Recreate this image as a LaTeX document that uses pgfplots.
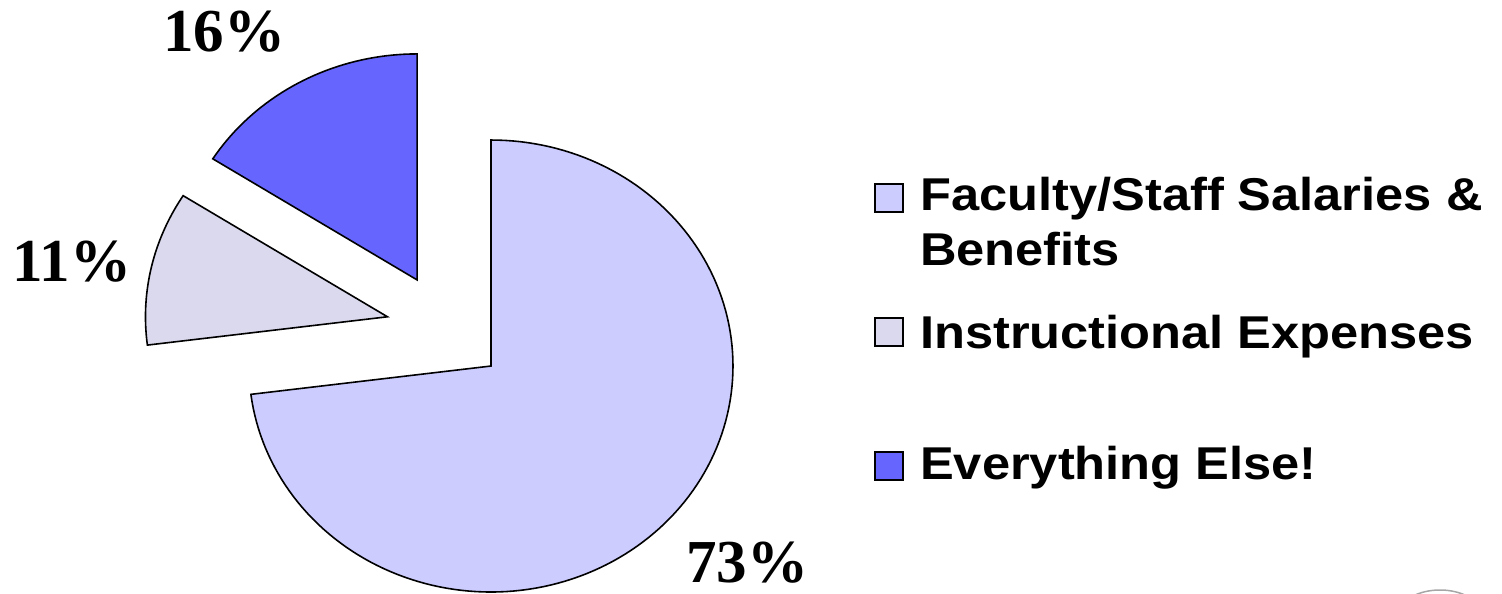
\documentclass[border=0pt]{standalone}
\usepackage{pgfplots}
\pgfplotsset{compat=1.18}
\usepackage{fontspec}
\setmainfont{Liberation Serif}
\newfontfamily\lsans{Liberation Sans}[FakeStretch=1.1]
\definecolor{cMain}{RGB}{204,204,255}
\definecolor{cInstr}{RGB}{218,217,237}
\definecolor{cElse}{RGB}{102,102,255}
% shares (percent)
\def\pA{73}% Faculty/Staff Salaries & Benefits
\def\pB{11}% Instructional Expenses
\def\pC{16}% Everything Else!
% geometry (pixel units)
\def\cx{446}\def\cy{265}\def\rx{242}\def\ry{226}\def\ex{56}\def\st{1.071}
\pgfmathsetmacro\aA{90}
\pgfmathsetmacro\aB{\aA-3.6*\pA}
\pgfmathsetmacro\aC{\aB-3.6*\pB}
\pgfmathsetmacro\aD{\aC-3.6*\pC}
\pgfmathsetmacro\mA{(\aA+\aB)/2}
\pgfmathsetmacro\mB{(\aB+\aC)/2}
\pgfmathsetmacro\mC{(\aC+\aD)/2}
\pgfmathsetmacro\xA{\cx+\st*\ex*cos(\mA)}\pgfmathsetmacro\yA{\cy+\ex*sin(\mA)}
\pgfmathsetmacro\xB{\cx+\st*\ex*cos(\mB)}\pgfmathsetmacro\yB{\cy+\ex*sin(\mB)}
\pgfmathsetmacro\xC{\cx+\st*\ex*cos(\mC)}\pgfmathsetmacro\yC{\cy+\ex*sin(\mC)}
\begin{document}
\begin{tikzpicture}
\begin{axis}[scale only axis, width=1502pt, height=594pt,
  xmin=0, xmax=1502, ymin=0, ymax=594, hide axis, clip=true]
\path (axis cs:0,0) rectangle (axis cs:1502,594);
\addplot[fill=cMain, draw=black, line width=1.6pt, domain=\aB:\aA, samples=150, variable=\t]
  ({\xA+\rx*cos(\t)},{\yA+\ry*sin(\t)}) -- (axis cs:\xA,\yA) -- cycle;
\addplot[fill=cInstr, draw=black, line width=1.6pt, domain=\aC:\aB, samples=40, variable=\t]
  ({\xB+\rx*cos(\t)},{\yB+\ry*sin(\t)}) -- (axis cs:\xB,\yB) -- cycle;
\addplot[fill=cElse, draw=black, line width=1.6pt, domain=\aD:\aC, samples=40, variable=\t]
  ({\xC+\rx*cos(\t)},{\yC+\ry*sin(\t)}) -- (axis cs:\xC,\yC) -- cycle;
% percentage labels
\node[anchor=base, inner sep=0pt, font=\bfseries\fontsize{61}{62}\selectfont] at (axis cs:224,542) {16\%};
\node[anchor=base, inner sep=0pt, font=\bfseries\fontsize{61}{62}\selectfont] at (axis cs:72,312) {11\%};
\node[anchor=base, inner sep=0pt, font=\bfseries\fontsize{61}{62}\selectfont] at (axis cs:747,11) {73\%};
% legend
\draw[fill=cMain, line width=1.8pt] (axis cs:875,382) rectangle (axis cs:903,410);
\draw[fill=cInstr, line width=1.8pt] (axis cs:875,248) rectangle (axis cs:903,276);
\draw[fill=cElse, line width=1.8pt] (axis cs:875,114) rectangle (axis cs:903,142);
\node[anchor=base west, inner sep=0pt, font=\lsans\bfseries\fontsize{46}{54}\selectfont] at (axis cs:920,383) {Faculty/Staff Salaries \&};
\node[anchor=base west, inner sep=0pt, font=\lsans\bfseries\fontsize{46}{54}\selectfont] at (axis cs:920,328) {Benefits};
\node[anchor=base west, inner sep=0pt, font=\lsans\bfseries\fontsize{46}{54}\selectfont] at (axis cs:920,245) {Instructional Expenses};
\node[anchor=base west, inner sep=0pt, font=\lsans\bfseries\fontsize{46}{54}\selectfont] at (axis cs:920,114) {Everything Else!};
% logo fragment at bottom right
\addplot[draw=gray!70, line width=1.5pt, domain=40:140, samples=40, variable=\t]
  ({1440+45*cos(\t)},{-26+30*sin(\t)});
\end{axis}
\end{tikzpicture}
\end{document}
